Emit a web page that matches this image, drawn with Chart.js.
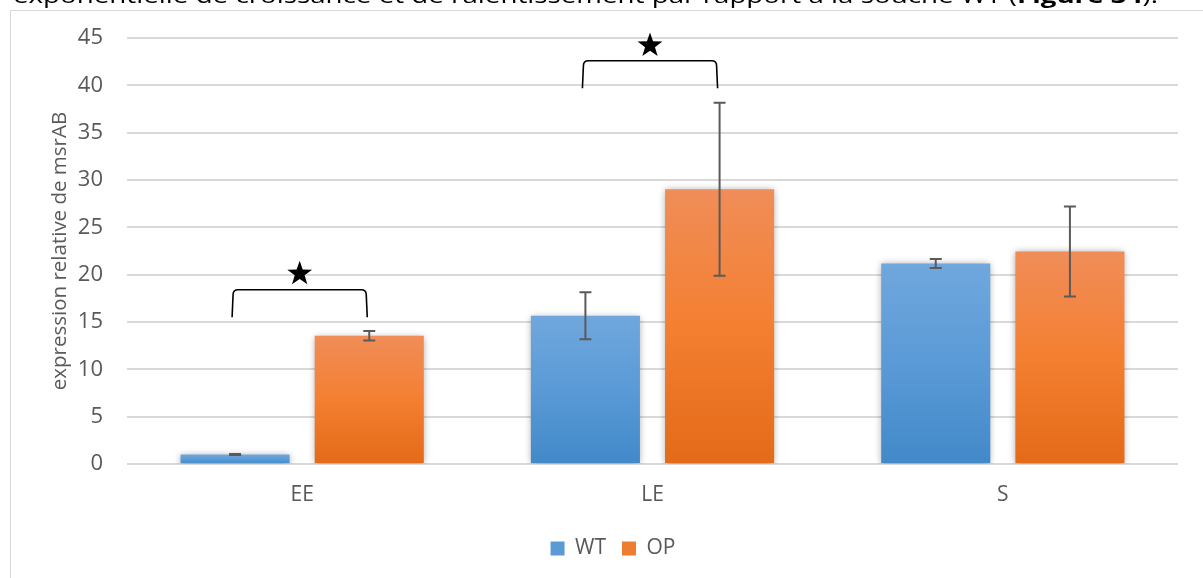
<!DOCTYPE html>
<html lang="fr">
<head>
  <meta charset="UTF-8">
  <title>expression relative de msrAB</title>
  <script src="https://cdn.jsdelivr.net/npm/chart.js"></script>
  <style>
    html, body { margin: 0; padding: 0; background: #fff; overflow: hidden; }
  </style>
</head>
<body>
  <canvas id="msrChart" width="1203" height="578"></canvas>

  <script>
    // valeurs
    const categories = ['EE', 'LE', 'S'];
    const wtValues = [1.0, 15.66, 21.18];
    const wtErrors = [0.05, 2.47, 0.47];
    const opValues = [13.55, 29.02, 22.45];
    const opErrors = [0.5, 9.13, 4.75];

    // axe y
    const yMin = 0, yMax = 45, yStep = 5;

    // crochets de significativité (groupe, haut du crochet, bas des pattes, étoile)
    const sigGroups = [0, 1];
    const sigTop = [18.4, 42.6];
    const sigLeg = [15.5, 39.7];
    const sigStar = [20.1, 44.2];

    const captionStart = 'exponentielle de croissance et de ralentissement par rapport à la souche WT (';
    const captionBold = 'Figure 34';
    const captionEnd = ').';

    const FONT = "'Open Sans', 'DejaVu Sans', sans-serif";
    const GREY = '#595959';
    const legendColors = ['#5b9bd5', '#ed7d31'];

    function barGradient(top, bottom, stops) {
      return function(context) {
        const chart = context.chart;
        if (!chart.chartArea || context.type !== 'data') return stops[1];
        const y = chart.scales.y;
        const yTop = y.getPixelForValue(context.raw);
        const yBase = y.getPixelForValue(0);
        const g = chart.ctx.createLinearGradient(0, yTop, 0, yBase);
        g.addColorStop(0, top);
        g.addColorStop(0.5, stops[0]);
        g.addColorStop(1, bottom);
        return g;
      };
    }

    function drawStar(ctx, cx, cy, rOut, rIn) {
      ctx.beginPath();
      for (let i = 0; i < 10; i++) {
        const r = i % 2 === 0 ? rOut : rIn;
        const a = -Math.PI / 2 + i * Math.PI / 5;
        const px = cx + r * Math.cos(a), py = cy + r * Math.sin(a);
        if (i === 0) ctx.moveTo(px, py); else ctx.lineTo(px, py);
      }
      ctx.closePath();
      ctx.fill();
    }

    const extrasPlugin = {
      id: 'extras',
      beforeDraw(chart) {
        const ctx = chart.ctx;
        ctx.save();
        // cadre du graphique
        ctx.strokeStyle = '#d9d9d9';
        ctx.lineWidth = 1;
        ctx.strokeRect(10.5, 10.5, 1400, 800);
        // légende de figure coupée en haut
        ctx.fillStyle = '#000';
        ctx.textBaseline = 'alphabetic';
        ctx.font = '22px ' + FONT;
        const w1 = ctx.measureText(captionStart).width;
        const w3 = ctx.measureText(captionEnd).width;
        ctx.font = 'bold 22px ' + FONT;
        const w2 = ctx.measureText(captionBold).width;
        const sx = 1145 / (w1 + w2 + w3);
        ctx.translate(13, 3);
        ctx.scale(sx, 1);
        ctx.font = '22px ' + FONT;
        ctx.fillText(captionStart, 0, 0);
        ctx.font = 'bold 22px ' + FONT;
        ctx.fillText(captionBold, w1, 0);
        ctx.font = '22px ' + FONT;
        ctx.fillText(captionEnd, w1 + w2, 0);
        ctx.restore();
      },
      beforeDatasetsDraw(chart) {
        const ctx = chart.ctx;
        ctx.save();
        ctx.shadowColor = 'rgba(0,0,0,0.35)';
        ctx.shadowBlur = 7;
        ctx.shadowOffsetY = 1;
      },
      afterDatasetsDraw(chart) {
        const ctx = chart.ctx;
        ctx.restore();
        const y = chart.scales.y;
        const errs = [wtErrors, opErrors];
        // barres d'erreur
        ctx.save();
        ctx.strokeStyle = '#5a5a5a';
        ctx.lineWidth = 2;
        chart.data.datasets.forEach((ds, i) => {
          const meta = chart.getDatasetMeta(i);
          meta.data.forEach((bar, j) => {
            const v = ds.data[j], e = errs[i][j];
            const yHi = y.getPixelForValue(v + e), yLo = y.getPixelForValue(v - e);
            ctx.beginPath();
            ctx.moveTo(bar.x, yHi); ctx.lineTo(bar.x, yLo);
            ctx.moveTo(bar.x - 6, yHi); ctx.lineTo(bar.x + 6, yHi);
            ctx.moveTo(bar.x - 6, yLo); ctx.lineTo(bar.x + 6, yLo);
            ctx.stroke();
          });
        });
        // crochets + étoiles
        ctx.strokeStyle = '#000';
        ctx.fillStyle = '#000';
        ctx.lineWidth = 1.6;
        sigGroups.forEach((g, k) => {
          const x1 = chart.getDatasetMeta(0).data[g].x - 3;
          const x2 = chart.getDatasetMeta(1).data[g].x - 2;
          const yt = y.getPixelForValue(sigTop[k]);
          const yl = y.getPixelForValue(sigLeg[k]);
          const r = 5;
          ctx.beginPath();
          ctx.moveTo(x1, yl);
          ctx.lineTo(x1 + 1, yt + r);
          ctx.quadraticCurveTo(x1 + 1, yt, x1 + 1 + r, yt);
          ctx.lineTo(x2 - 1 - r, yt);
          ctx.quadraticCurveTo(x2 - 1, yt, x2 - 1, yt + r);
          ctx.lineTo(x2, yl);
          ctx.stroke();
          drawStar(ctx, (x1 + x2) / 2, y.getPixelForValue(sigStar[k]), 13, 5.2);
        });
        ctx.restore();
      }
    };

    const ctx = document.getElementById('msrChart').getContext('2d');
    const msrChart = new Chart(ctx, {
      type: 'bar',
      data: {
        labels: categories,
        datasets: [
          {
            label: 'WT',
            data: wtValues,
            backgroundColor: barGradient('#70a7dd', '#4289c9', ['#5a9ad6', '#5b9bd5']),
            borderWidth: 0,
            categoryPercentage: 0.766,
            barPercentage: 0.813
          },
          {
            label: 'OP',
            data: opValues,
            backgroundColor: barGradient('#f08d58', '#e36a18', ['#f47f31', '#ed7d31']),
            borderWidth: 0,
            categoryPercentage: 0.766,
            barPercentage: 0.813
          }
        ]
      },
      options: {
        responsive: false,
        animation: false,
        layout: { padding: { left: 48, top: 38, right: 25, bottom: 9 } },
        plugins: {
          tooltip: { enabled: false },
          legend: {
            position: 'bottom',
            labels: {
              boxWidth: 14,
              boxHeight: 14,
              padding: 16,
              color: GREY,
              font: { family: FONT, size: 21 },
              generateLabels(chart) {
                return chart.data.datasets.map((ds, i) => ({
                  text: ds.label,
                  fillStyle: legendColors[i],
                  strokeStyle: legendColors[i],
                  lineWidth: 0,
                  hidden: false,
                  datasetIndex: i,
                  fontColor: GREY
                }));
              }
            }
          }
        },
        scales: {
          x: {
            grid: { display: false },
            border: { display: false },
            ticks: { color: GREY, font: { family: FONT, size: 21 }, padding: 10 },
            afterFit(scale) { scale.height = 58; }
          },
          y: {
            min: yMin,
            max: yMax,
            ticks: { stepSize: yStep, color: GREY, font: { family: FONT, size: 22 }, padding: 24 },
            grid: { color: '#d9d9d9', lineWidth: 2, drawTicks: false },
            border: { display: false },
            title: {
              display: true,
              text: 'expression relative de msrAB',
              color: GREY,
              font: { family: FONT, size: 20.5 },
              padding: { top: 0, bottom: 0 }
            },
            afterFit(scale) { scale.width = 79; }
          }
        }
      },
      plugins: [extrasPlugin]
    });
  </script>
</body>
</html>
